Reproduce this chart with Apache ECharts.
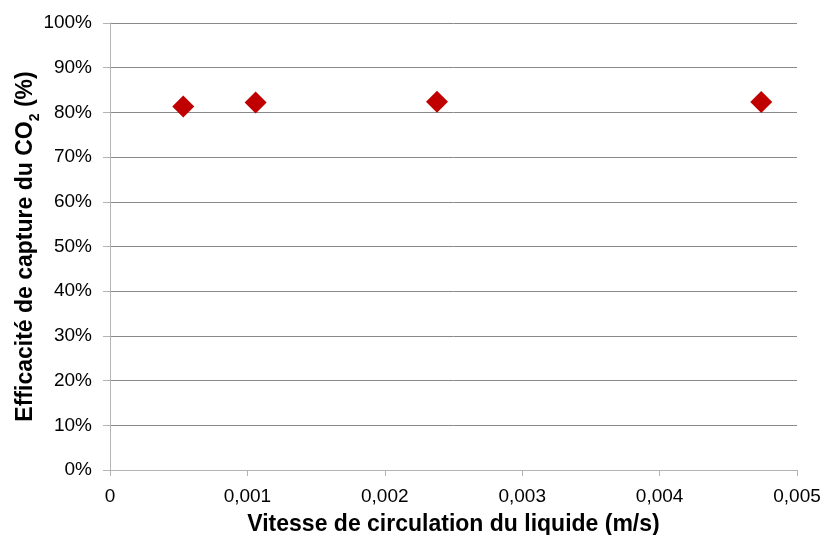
<!DOCTYPE html>
<html>
<head>
<meta charset="utf-8">
<script src="https://cdn.jsdelivr.net/npm/echarts@6/dist/echarts.min.js"></script>
<style>html,body{margin:0;padding:0;background:#fff;}#c{width:826px;height:535px;}</style>
</head>
<body>
<div id="c"></div>
<script>
const xValues = [0.000533, 0.00106, 0.00238, 0.00474];
const yValues = [81.3, 82.2, 82.4, 82.3];
const xTitle = 'Vitesse de circulation du liquide (m/s)';
const yTitleMain = 'Efficacité de capture du CO';
const yTitleSub = '2';
const yTitleEnd = ' (%)';

const chart = echarts.init(document.getElementById('c'), null, {renderer: 'canvas'});
const font = 'Liberation Sans, Arial, sans-serif';
const gridGray = '#898989';
const axisGray = '#b4b4b4';
chart.setOption({
  animation: false,
  backgroundColor: '#fff',
  grid: {left: 110, right: 29, top: 23, bottom: 65, containLabel: false, outerBoundsMode: 'none'},
  xAxis: {
    type: 'value', min: 0, max: 0.005, interval: 0.001,
    axisLine: {show: true, onZero: false, lineStyle: {color: axisGray, width: 1}},
    axisTick: {show: true, length: 6, lineStyle: {color: axisGray}},
    splitLine: {show: false},
    axisLabel: {color: '#000', fontFamily: font, fontSize: 19, margin: 17,
      formatter: v => String(+v.toFixed(3)).replace('.', ',')},
    name: xTitle, nameLocation: 'middle', nameGap: 43, nameMoveOverlap: false,
    nameTextStyle: {color: '#000', fontFamily: font, fontSize: 23, fontWeight: 'bold'}
  },
  yAxis: {
    type: 'value', min: 0, max: 100, interval: 10,
    axisLine: {show: true, lineStyle: {color: axisGray, width: 1}},
    axisTick: {show: true, length: 7, lineStyle: {color: axisGray}},
    splitLine: {show: true, lineStyle: {color: gridGray, width: 1}},
    axisLabel: {color: '#000', fontFamily: font, fontSize: 19, margin: 18, formatter: '{value}%'},
    name: '{m|' + yTitleMain + '}{s|' + yTitleSub + '}{m|' + yTitleEnd + '}',
    nameLocation: 'middle', nameGap: 73, nameMoveOverlap: false,
    nameTextStyle: {
      color: '#000', fontFamily: font, fontSize: 23, fontWeight: 'bold',
      rich: {
        m: {fontFamily: font, fontSize: 23, fontWeight: 'bold', color: '#000', verticalAlign: 'bottom', lineHeight: 26},
        s: {fontFamily: font, fontSize: 14, fontWeight: 'bold', color: '#000', verticalAlign: 'bottom', lineHeight: 26, padding: [0, 0, -5, 0]}
      }
    }
  },
  series: [{
    type: 'scatter',
    symbol: 'diamond',
    symbolSize: 22,
    itemStyle: {color: '#C00000', opacity: 1},
    data: xValues.map((x, i) => [x, yValues[i]])
  }]
});
</script>
</body>
</html>
